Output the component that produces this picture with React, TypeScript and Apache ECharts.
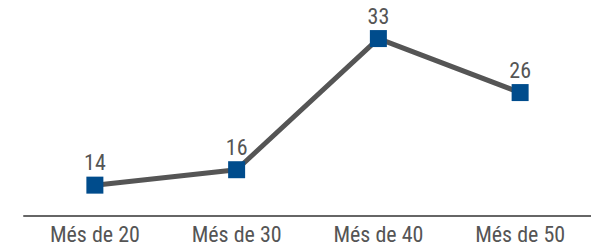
import React, { useEffect, useRef } from "react";
import * as echarts from "echarts";

const categories = ["Més de 20", "Més de 30", "Més de 40", "Més de 50"];
const values = [14, 16, 33, 26];

const FONT = "'Roboto Condensed', 'Roboto', sans-serif";

export default function App() {
  const ref = useRef<HTMLDivElement>(null);
  useEffect(() => {
    const chart = echarts.init(ref.current!, null, { renderer: "svg" });
    chart.setOption({
      animation: false,
      grid: { left: 24, right: -3, top: -2, bottom: 29, containLabel: false },
      xAxis: {
        type: "category",
        data: categories,
        boundaryGap: true,
        axisLine: { lineStyle: { color: "#666", width: 2 } },
        axisTick: { show: false },
        axisLabel: { color: "#555", fontSize: 22, fontFamily: FONT, margin: 7 },
      },
      yAxis: {
        type: "value",
        min: 10,
        max: 38,
        show: false,
        splitLine: { show: false },
      },
      series: [
        {
          type: "line",
          data: values,
          symbol: "rect",
          symbolSize: 17,
          itemStyle: { color: "#004c8c" },
          lineStyle: { color: "#555555", width: 5 },
          label: {
            show: true,
            position: "top",
            distance: 3,
            color: "#555",
            fontSize: 22,
            fontFamily: FONT,
          },
          z: 3,
        },
      ],
    });
    return () => chart.dispose();
  }, []);
  return (
    <div
      ref={ref}
      style={{ position: "absolute", left: 0, top: 0, width: 591, height: 245 }}
    />
  );
}
